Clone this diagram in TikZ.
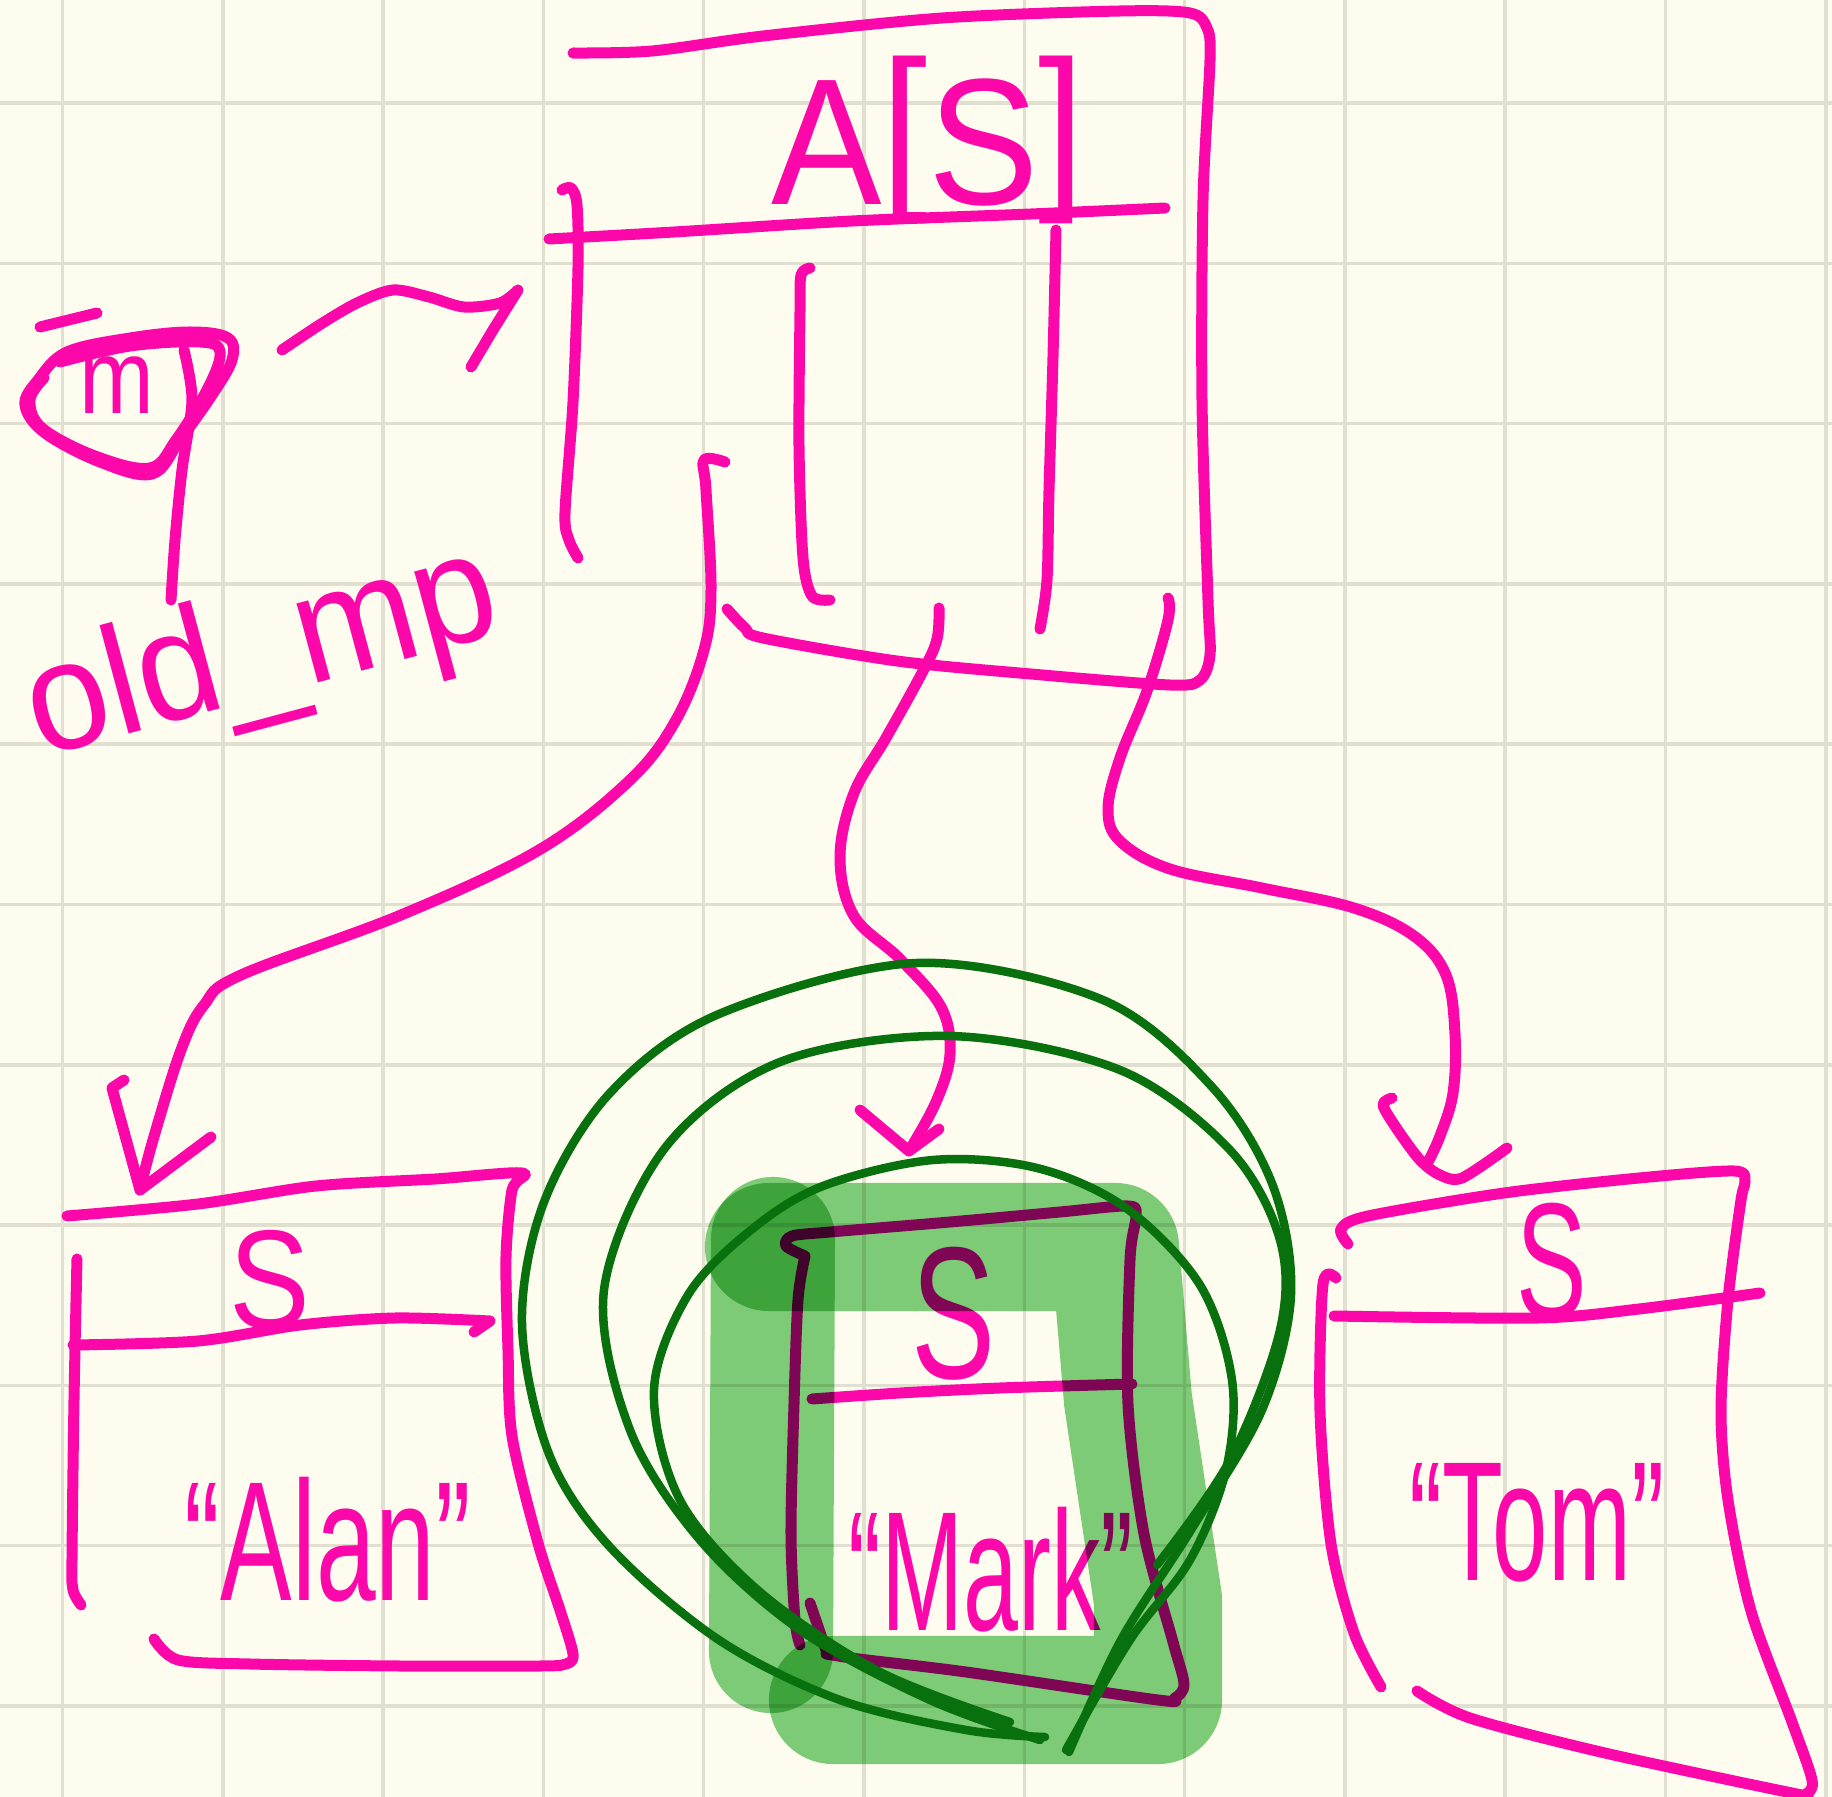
\documentclass[tikz,border=0pt]{standalone}
\usepackage{fontspec}
\setmainfont{Liberation Sans}
\usepackage{graphicx}
\definecolor{paper}{RGB}{253,252,238}
\definecolor{gridc}{RGB}{224,223,208}
\definecolor{pinkink}{RGB}{252,8,170}
\definecolor{hlgreen}{RGB}{128,206,128}
\definecolor{darkgreen}{RGB}{8,112,12}
\newcommand\hwtext[3]{\scalebox{#2}[1]{\fontsize{#1}{#1}\selectfont #3}}
\begin{document}
\begin{tikzpicture}[x=0.01cm, y=-0.01cm,
  gridline/.style={draw=gridc, line width=0.035cm},
  ink/.style={draw=pinkink, line width=0.11cm, line cap=round, line join=round},
  loopline/.style={draw=darkgreen, line width=0.085cm, line cap=round, line join=round},
  hl/.style={draw=hlgreen, line width=1.26cm, line cap=round, line join=round},
  hw/.style={text=pinkink, inner sep=0pt, anchor=base}]
\useasboundingbox (0,0) rectangle (1832,1797);
\fill[paper] (0,0) rectangle (1832,1797);
% grid
\foreach \k in {0,...,11} \draw[gridline] ({62.5+160.3*\k},0) -- ({62.5+160.3*\k},1797);
\foreach \k in {0,...,10} \draw[gridline] (0,{103+160.3*\k}) -- (1832,{103+160.3*\k});

% ---------- named points for the connectors
\coordinate (cellA) at (725,462);
\coordinate (cellB) at (939,608);
\coordinate (cellC) at (1168,598);
\coordinate (tipAlan) at (140,1190);
\coordinate (tipMark) at (909,1151);
\coordinate (tipTom) at (1427,1164);
\coordinate (arrS) at (282,350);
\coordinate (arrT) at (518,290);
\coordinate (ptrIn) at (184,350);
\coordinate (ptrEnd) at (171,600);

% ---------- array box A[S]
\draw[ink] plot[smooth, tension=0.5] coordinates {(573,53) (652,51) (763,36) (942,18) (1120,11) (1190,13) (1207,28) (1210,60) (1203,200) (1202,400) (1208,600) (1210,655) (1200,680) (1170,685) (1031,674) (897,661) (763,638) (745,628) (727,609)};
\draw[ink] plot[smooth] coordinates {(549,239) (674,232) (852,221) (1031,214) (1165,208)};
\draw[ink] plot[smooth] coordinates {(562,190) (571,188) (577,205) (578,268) (573,402) (565,513) (569,540) (578,558)};
\draw[ink] plot[smooth] coordinates {(810,268) (801,275) (800,312) (799,446) (803,558) (812,596) (830,600)};
\draw[ink] plot[smooth] coordinates {(1056,230) (1053,357) (1049,491) (1047,580) (1040,629)};
\node[hw] (hdrA) at (928,205) {\hwtext{51.2}{0.92}{A\raisebox{0.1em}{[}S\raisebox{0.1em}{]}}};

% ---------- pointer triangle and label
\draw[ink] (40,327) -- (97,313);
\draw[ink] plot[smooth cycle, tension=0.6] coordinates {(67,352) (130,338) (190,332) (228,338) (232,360) (212,395) (180,440) (152,474) (100,462) (45,433) (25,405) (38,380)};
\draw[ink] plot[smooth, tension=0.6] coordinates {(60,362) (130,346) (200,342) (220,352) (208,388) (176,440) (150,468) (95,456) (42,428) (30,400) (44,378)};
\node[hw] (mvar) at (117,413) {\hwtext{30}{0.85}{m}};
\node[hw, rotate=15] (oldlbl) at (273,695) {\hwtext{44}{0.95}{old\_mp}};
\draw[ink] plot[smooth] coordinates {(ptrIn) (192,400) (182,470) (175,540) (ptrEnd)};
\draw[ink] plot[smooth] coordinates {(arrS) (321,324) (357,303) (393,290) (429,297) (464,307) (500,303) (arrT)} -- (493,330) -- (471,367);

% ---------- arrows from the cells
\draw[ink] plot[smooth, tension=0.6] coordinates {(cellA) (704,460) (706,490) (711,590) (704,650) (676,720) (630,780) (539,850) (401,915) (241,975) (204,1005) (181,1050) (153,1140) (tipAlan)};
\draw[ink] (124,1080) -- (112,1088) -- (tipAlan) -- (211,1137);
\draw[ink] plot[smooth, tension=0.6] coordinates {(cellB) (937,639) (923,671) (886,738) (854,793) (840,857) (854,916) (900,959) (941,1007) (950,1054) (936,1102) (tipMark)};
\draw[ink] (860,1110) -- (tipMark) -- (939,1129);
\draw[ink] plot[smooth, tension=0.6] coordinates {(cellC) (1168,620) (1147,691) (1120,758) (1108,809) (1120,841) (1170,869) (1262,888) (1354,908) (1414,936) (1446,975) (1455,1034) (1453,1093) (1440,1136) (tipTom)};
\draw[ink] plot[smooth, tension=0.5] coordinates {(1392,1098) (1383,1105) (1397,1129) (1420,1160) (1440,1175) (1462,1178) (1507,1148)};

% ---------- box Alan
\draw[ink] plot[smooth, tension=0.5] coordinates {(67,1216) (198,1204) (316,1186) (435,1179) (522,1173) (512,1190) (506,1257) (508,1350) (512,1436) (538,1543) (560,1610) (573,1654) (566,1664) (540,1666) (400,1666) (250,1664) (178,1660) (154,1639)};
\draw[ink] plot[smooth] coordinates {(77,1259) (74,1400) (72,1560) (73,1590) (81,1605)};
\draw[ink] plot[smooth] coordinates {(73,1345) (198,1341) (300,1325) (395,1318) (490,1321)} -- (474,1332);
\node[hw] (sAlan) at (270,1328) {\hwtext{40}{0.86}{S}};
\node[hw] (alan) at (328,1600) {\hwtext{48.4}{0.63}{“Alan”}};

% ---------- box Mark
\draw[ink] plot[smooth, tension=0.5] coordinates {(805,1256) (786,1246) (792,1236) (830,1232) (950,1222) (1060,1212) (1128,1206) (1136,1216) (1130,1260) (1128,1404) (1144,1534) (1173,1642) (1184,1684) (1175,1698) (1158,1700) (966,1672) (859,1659) (826,1654)};
\draw[ink] plot[smooth] coordinates {(805,1256) (798,1300) (794,1404) (791,1534) (795,1620) (800,1645)};
\draw[ink] (810,1603) -- (826,1650);
\draw[ink] plot[smooth] coordinates {(812,1399) (900,1393) (1000,1388) (1132,1384)};
\node[hw] (sMark) at (954,1378) {\hwtext{53.5}{0.67}{S}};
\node[hw] (mark) at (991,1630) {\hwtext{48.4}{0.58}{“Mark”}};

% ---------- box Tom
\draw[ink] plot[smooth, tension=0.5] coordinates {(1348,1244) (1341,1229) (1368,1216) (1504,1193) (1639,1178) (1734,1171) (1745,1182) (1741,1200) (1728,1300) (1721,1411) (1728,1500) (1751,1611) (1792,1722) (1812,1780) (1806,1794) (1792,1793) (1605,1753) (1470,1718) (1417,1691)};
\draw[ink] plot[smooth] coordinates {(1336,1278) (1323,1284) (1320,1411) (1331,1544) (1354,1633) (1381,1687)};
\draw[ink] plot[smooth] coordinates {(1334,1316) (1538,1318) (1639,1309) (1760,1293)};
\node[hw] (sTom) at (1552,1318) {\hwtext{47}{0.64}{S}};
\node[hw] (tom) at (1537,1580) {\hwtext{48.4}{0.585}{“Tom”}};

% ---------- highlighter
\begin{scope}[blend mode=multiply]
\draw[hl, line width=1.24cm] (773,1239) -- (771,1651);
\draw[hl, line width=1.28cm] (769,1247) -- (1115,1247) -- (1128,1400) -- (1158,1600) -- (1158,1700) -- (833,1700);
\end{scope}

% ---------- dark green loops
\draw[loopline] plot[smooth, tension=0.55] coordinates {(1045,1737) (966,1730) (840,1700) (719,1640) (610,1547) (549,1454) (522,1323) (544,1202) (610,1093) (719,1014) (917,963) (1103,1000) (1213,1088) (1273,1186) (1291,1295) (1262,1410) (1191,1530) (1121,1640) (1069,1752)};
\draw[loopline] plot[smooth, tension=0.55] coordinates {(1157,1565) (1230,1460) (1280,1330) (1280,1240) (1230,1150) (1120,1070) (950,1036) (780,1062) (665,1148) (604,1290) (630,1430) (700,1540) (800,1630) (930,1700) (1040,1740)};
\draw[loopline] plot[smooth, tension=0.55] coordinates {(1010,1722) (880,1672) (760,1592) (680,1500) (654,1390) (688,1295) (751,1230) (823,1186) (933,1160) (1037,1168) (1126,1208) (1200,1285) (1232,1380) (1226,1470) (1190,1560) (1130,1640) (1066,1750)};
\end{tikzpicture}
\end{document}
